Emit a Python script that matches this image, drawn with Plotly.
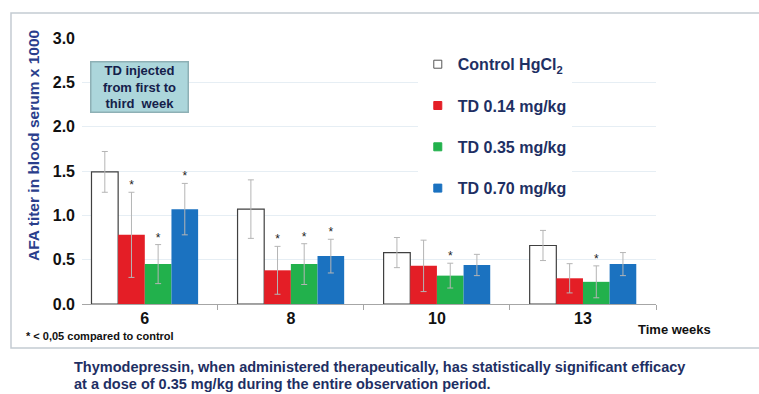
import plotly.graph_objects as go

weeks = ["6", "8", "10", "13"]
series_names = ["Control HgCl<sub>2</sub>", "TD 0.14 mg/kg", "TD 0.35 mg/kg", "TD 0.70 mg/kg"]
control = [1.49, 1.07, 0.58, 0.66]
control_err = [0.23, 0.33, 0.17, 0.17]
td014 = [0.78, 0.38, 0.43, 0.29]
td014_err = [0.48, 0.27, 0.29, 0.165]
td035 = [0.45, 0.45, 0.32, 0.25]
td035_err = [0.22, 0.23, 0.14, 0.18]
td070 = [1.07, 0.54, 0.44, 0.45]
td070_err = [0.29, 0.19, 0.12, 0.13]
# significance flags (* p < 0.05 vs control)
sig_control = [False, False, False, False]
sig_td014 = [True, True, False, False]
sig_td035 = [True, True, True, True]
sig_td070 = [True, True, False, False]
y_ticks = [0.0, 0.5, 1.0, 1.5, 2.0, 2.5, 3.0]

values = [control, td014, td035, td070]
errors = [control_err, td014_err, td035_err, td070_err]
sigs = [sig_control, sig_td014, sig_td035, sig_td070]
fills = ["#ffffff", "#e41e26", "#22b14c", "#1b72c0"]
lines = ["#404040", "#e41e26", "#22b14c", "#1b72c0"]

NAVY = "#1e2f63"
FONT = "Liberation Sans, Arial, sans-serif"

xpos = list(range(len(weeks)))
bargap = 0.27
bw = (1 - bargap) / 4

fig = go.Figure()
for k in range(4):
    fig.add_trace(go.Bar(
        x=xpos, y=values[k], name=series_names[k], showlegend=False,
        marker=dict(color=fills[k], line=dict(color=lines[k], width=1.2 if k == 0 else 0)),
        error_y=dict(type="data", array=errors[k], color="#b5b5b5", thickness=1, width=3),
    ))
    # legend entries
    fig.add_trace(go.Scatter(
        x=[None], y=[None], mode="markers", name=f"<b>{series_names[k]}</b>",
        legendgroup=f"g{k}",
        marker=dict(symbol="square", size=8, color=fills[k],
                    line=dict(color="#555555" if k == 0 else fills[k], width=1)),
    ))
    # asterisks
    sx, sy = [], []
    for i in range(len(weeks)):
        if sigs[k][i]:
            sx.append(i + (k - 1.5) * bw)
            sy.append(values[k][i] + errors[k][i])
    if sx:
        fig.add_trace(go.Scatter(
            x=sx, y=sy, mode="text", text=["*"] * len(sx), showlegend=False,
            textposition="top center", textfont=dict(size=12, color="#222222", family=FONT),
            hoverinfo="skip",
        ))

fig.update_layout(
    width=759, height=394,
    margin=dict(l=82, r=103, t=38, b=90),
    paper_bgcolor="white", plot_bgcolor="white",
    barmode="group", bargap=bargap, bargroupgap=0,
    font=dict(family=FONT, color=NAVY),
    legend=dict(
        x=0.585, y=0.965, xanchor="left", yanchor="top",
        bgcolor="white", tracegroupgap=17.5, traceorder="grouped",
        font=dict(size=16, color=NAVY, family=FONT),
        itemwidth=30,
    ),
    xaxis=dict(
        range=[-0.43, 3.5], tickmode="array", tickvals=xpos, ticktext=[f"<b>{w}</b>" for w in weeks],
        showgrid=False, zeroline=False, showline=True, linecolor="#a6a6a6", linewidth=1,
        ticks="", tickfont=dict(size=16, color="#111111", family=FONT),
        minor=dict(tickmode="array", tickvals=[0.5, 1.5, 2.5, 3.5], ticks="outside",
                   ticklen=5, tickcolor="#a6a6a6", showgrid=False),
    ),
    yaxis=dict(
        range=[0, 3.0], tickmode="array", tickvals=y_ticks,
        ticktext=[f"<b>{v:.1f}</b>" for v in y_ticks],
        showgrid=True, gridcolor="#e6eef4", gridwidth=1, zeroline=False, showline=False,
        tickfont=dict(size=16, color="#111111", family=FONT), ticklabelstandoff=6,
    ),
)

# y axis title
fig.add_annotation(xref="paper", yref="paper", x=(33 - 82) / 574, y=(304 - 146) / 266,
                   xanchor="center", yanchor="middle", textangle=-90, showarrow=False,
                   text="<b>AFA titer in blood serum x 1000</b>",
                   font=dict(size=15.5, color="#2a3e8c", family=FONT))

# frame around chart
fig.add_shape(type="rect", xref="paper", yref="paper",
              x0=-0.1237, x1=1.2, y0=-0.165, y1=1.094,
              line=dict(color="#c4cbd2", width=1.5), fillcolor="rgba(0,0,0,0)", layer="below")

# text box
fig.add_annotation(xref="paper", yref="paper", x=0.014, y=(304 - 61) / 266, xanchor="left", yanchor="top",
                   text="<b>TD injected<br>from first to<br>third  week</b>", showarrow=False,
                   align="center", width=94, height=47,
                   font=dict(size=13, color="#14204a", family=FONT),
                   bgcolor="#acd6db", bordercolor="#8eb0b5", borderwidth=1.5, borderpad=1)

fig.add_annotation(xref="paper", yref="paper", x=(674 - 82) / 574, y=(304 - 329) / 266,
                   xanchor="center", yanchor="middle",
                   text="<b>Time weeks</b>", showarrow=False,
                   font=dict(size=13, color="#111111", family=FONT))

fig.add_annotation(xref="paper", yref="paper", x=(24 - 82) / 574, y=(304 - 336) / 266,
                   xanchor="left", yanchor="middle",
                   text="<b>* < 0,05 compared to control</b>", showarrow=False,
                   font=dict(size=11, color="#111111", family=FONT))

fig.add_annotation(xref="paper", yref="paper", x=(72 - 82) / 574, y=(304 - 367) / 266,
                   xanchor="left", yanchor="middle",
                   text="<b>Thymodepressin, when administered therapeutically, has statistically significant efficacy</b>",
                   showarrow=False, font=dict(size=14.5, color=NAVY, family=FONT))
fig.add_annotation(xref="paper", yref="paper", x=(72 - 82) / 574, y=(304 - 384) / 266,
                   xanchor="left", yanchor="middle",
                   text="<b>at a dose of 0.35 mg/kg during the entire observation period.</b>",
                   showarrow=False, font=dict(size=14.5, color=NAVY, family=FONT))

fig.write_html("out.html")
